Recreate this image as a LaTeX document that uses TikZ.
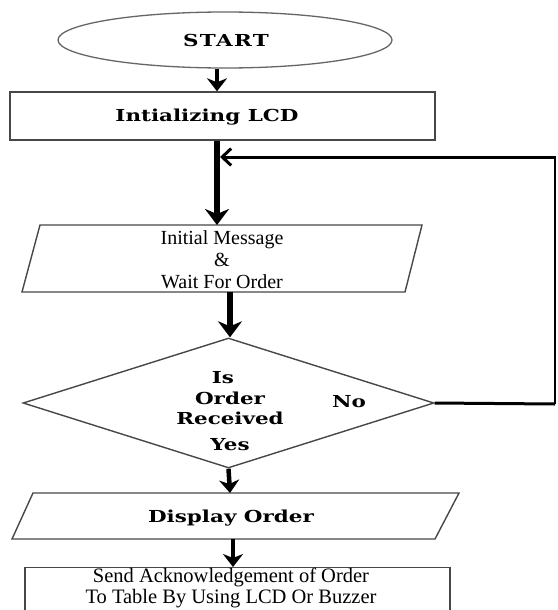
\documentclass[tikz,border=0pt]{standalone}
\usepackage{fontspec}
\setmainfont{Liberation Serif}
\newfontfamily\wideb{DejaVu Serif}[FakeStretch=1.3]
\newfontfamily\widebs{DejaVu Serif}[FakeStretch=1.3,LetterSpace=8]
\usetikzlibrary{shapes.geometric,arrows.meta}
\tikzset{
  outl/.style={draw=black!72, line width=1.4pt},
  bt/.style={font=\wideb\bfseries\fontsize{16.5}{20}\selectfont, inner sep=0pt},
  rt/.style={font=\fontsize{20}{22}\selectfont, align=center, inner sep=0pt},
  arr/.style={line width=4.5pt, -{Stealth[length=13pt,width=20pt,inset=4pt]}},
  bigarr/.style={line width=6pt, -{Stealth[length=16pt,width=24pt,inset=5pt]}},
  loopl/.style={line width=3pt},
}
\begin{document}
\begin{tikzpicture}[x=1pt,y=-1pt]
\clip (0,0) rectangle (557,610);
\fill[white] (0,0) rectangle (557,610);
% start
\node[ellipse, draw=black!60, line width=1.3pt, minimum width=334pt, minimum height=56pt, inner sep=0pt] (start) at (225,40) {};
\node[bt, font=\widebs\bfseries\fontsize{16.5}{20}\selectfont] (starttxt) at (226,40) {START};
% init LCD
\node[rectangle, outl, minimum width=425pt, minimum height=48pt, inner sep=0pt] (lcd) at (222.5,116) {};
\node[bt] (lcdtxt) at (207,117) {Intializing LCD};
% parallelogram 1
\draw[outl] (22,292) -- (405,292) -- (422,225) -- (40,225) -- cycle;
\node[rt] (msg) at (222,260) {Initial Message\\\&\\Wait For Order};
\coordinate (msgtop) at (217,225);
\coordinate (msgbot) at (230,292);
% diamond
\node[diamond, outl, minimum width=411pt, minimum height=130pt, inner sep=0pt] (dec) at (228.5,403) {};
\node[bt] (is) at (223,378) {Is};
\node[bt] (ord) at (230,398) {Order};
\node[bt] (rec) at (230,418) {Received};
\node[bt] (yes) at (230,445) {Yes};
\node[bt] (no) at (349,402) {No};
% parallelogram 2
\draw[outl] (12,539) -- (435,539) -- (459,493) -- (33,493) -- cycle;
\node[bt] (disp) at (231,518) {Display Order};
\coordinate (disptop) at (230,493);
\coordinate (dispbot) at (233,539);
% final box
\node[rectangle, outl, minimum width=425pt, minimum height=70pt, inner sep=0pt, anchor=north] (ack) at (237.5,567) {};
\node[rt, font=\fontsize{20.5}{21}\selectfont] (acktxt) at (231,588) {Send Acknowledgement of Order\\To Table By Using LCD Or Buzzer};
% connectors
\draw[arr] ([xshift=-8pt]start.south) -- ([xshift=-8pt]start.south |- lcd.north);
\draw[bigarr] (lcd.south -| msgtop) -- (msgtop);
\draw[bigarr] (msgbot) -- (msgbot |- dec.north);
\draw[arr] (dec.south) -- (disptop);
\draw[arr] (dispbot) -- (dispbot |- ack.north);
% loop back
\coordinate (rb) at (555,404);
\coordinate (rt) at (555,157);
\coordinate (jn) at (220,157);
\draw[loopl] (dec.east) -- (rb);
\draw[line width=2pt] (rb) -- (rt);
\draw[loopl, -{Straight Barb[length=9pt,width=17pt,line width=3pt]}] ([xshift=1pt]rt) -- (jn);
\end{tikzpicture}
\end{document}
